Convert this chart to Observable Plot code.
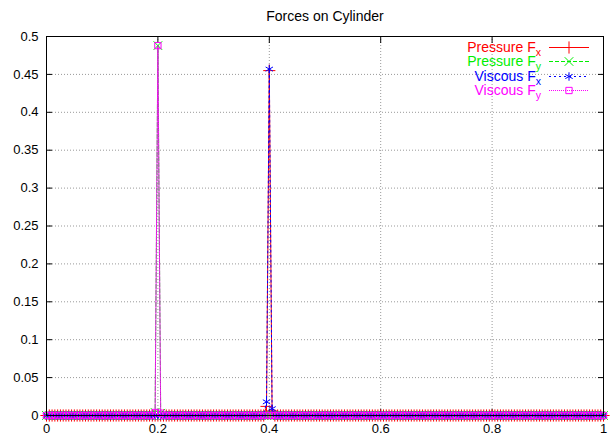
<!DOCTYPE html>
<html><head><meta charset="utf-8">
<script src="https://cdn.jsdelivr.net/npm/d3@7"></script>
<script src="https://cdn.jsdelivr.net/npm/@observablehq/plot@0.6"></script>
<style>
body{margin:0;background:#fff;}
#wrap{position:relative;width:613px;height:440px;font-family:"Liberation Sans",Arial,sans-serif;}
#wrap svg{display:block;}
#legend{position:absolute;left:0;top:0;pointer-events:none;}
</style></head><body><div id="wrap"></div>
<script>
// sample positions (x): 201 samples, spacing
const xValues = [
  0.000,0.005,0.010,0.015,0.020,0.025,0.030,0.035,0.040,0.045,0.050,0.055,0.060,0.065,0.070,0.075,0.080,0.085,0.090,0.095,
  0.100,0.105,0.110,0.115,0.120,0.125,0.130,0.135,0.140,0.145,0.150,0.155,0.160,0.165,0.170,0.175,0.180,0.185,0.190,0.195,
  0.200,0.205,0.210,0.215,0.220,0.225,0.230,0.235,0.240,0.245,0.250,0.255,0.260,0.265,0.270,0.275,0.280,0.285,0.290,0.295,
  0.300,0.305,0.310,0.315,0.320,0.325,0.330,0.335,0.340,0.345,0.350,0.355,0.360,0.365,0.370,0.375,0.380,0.385,0.390,0.395,
  0.400,0.405,0.410,0.415,0.420,0.425,0.430,0.435,0.440,0.445,0.450,0.455,0.460,0.465,0.470,0.475,0.480,0.485,0.490,0.495,
  0.500,0.505,0.510,0.515,0.520,0.525,0.530,0.535,0.540,0.545,0.550,0.555,0.560,0.565,0.570,0.575,0.580,0.585,0.590,0.595,
  0.600,0.605,0.610,0.615,0.620,0.625,0.630,0.635,0.640,0.645,0.650,0.655,0.660,0.665,0.670,0.675,0.680,0.685,0.690,0.695,
  0.700,0.705,0.710,0.715,0.720,0.725,0.730,0.735,0.740,0.745,0.750,0.755,0.760,0.765,0.770,0.775,0.780,0.785,0.790,0.795,
  0.800,0.805,0.810,0.815,0.820,0.825,0.830,0.835,0.840,0.845,0.850,0.855,0.860,0.865,0.870,0.875,0.880,0.885,0.890,0.895,
  0.900,0.905,0.910,0.915,0.920,0.925,0.930,0.935,0.940,0.945,0.950,0.955,0.960,0.965,0.970,0.975,0.980,0.985,0.990,0.995,
  1.000
];
// each row = 20 samples (0.1 in x)
const pressureFx = [
  0,0,0,0,0,0,0,0,0,0,0,0,0,0,0,0,0,0,0,0,
  0,0,0,0,0,0,0,0,0,0,0,0,0,0,0,0,0,0,0,0,
  0,0,0,0,0,0,0,0,0,0,0,0,0,0,0,0,0,0,0,0,
  0,0,0,0,0,0,0,0,0,0,0,0,0,0,0,0,0,0,0,0.012,
  0.455,0.006,0,0,0,0,0,0,0,0,0,0,0,0,0,0,0,0,0,0,
  0,0,0,0,0,0,0,0,0,0,0,0,0,0,0,0,0,0,0,0,
  0,0,0,0,0,0,0,0,0,0,0,0,0,0,0,0,0,0,0,0,
  0,0,0,0,0,0,0,0,0,0,0,0,0,0,0,0,0,0,0,0,
  0,0,0,0,0,0,0,0,0,0,0,0,0,0,0,0,0,0,0,0,
  0,0,0,0,0,0,0,0,0,0,0,0,0,0,0,0,0,0,0,0,
  0
];
const pressureFy = [
  0,0,0,0,0,0,0,0,0,0,0,0,0,0,0,0,0,0,0,0,
  0,0,0,0,0,0,0,0,0,0,0,0,0,0,0,0,0,0,0,0.004,
  0.488,0.003,0,0,0,0,0,0,0,0,0,0,0,0,0,0,0,0,0,0,
  0,0,0,0,0,0,0,0,0,0,0,0,0,0,0,0,0,0,0,0,
  0,0,0,0,0,0,0,0,0,0,0,0,0,0,0,0,0,0,0,0,
  0,0,0,0,0,0,0,0,0,0,0,0,0,0,0,0,0,0,0,0,
  0,0,0,0,0,0,0,0,0,0,0,0,0,0,0,0,0,0,0,0,
  0,0,0,0,0,0,0,0,0,0,0,0,0,0,0,0,0,0,0,0,
  0,0,0,0,0,0,0,0,0,0,0,0,0,0,0,0,0,0,0,0,
  0,0,0,0,0,0,0,0,0,0,0,0,0,0,0,0,0,0,0,0,
  0
];
const viscousFx = [
  0,0,0,0,0,0,0,0,0,0,0,0,0,0,0,0,0,0,0,0,
  0,0,0,0,0,0,0,0,0,0,0,0,0,0,0,0,0,0,0,0,
  0,0,0,0,0,0,0,0,0,0,0,0,0,0,0,0,0,0,0,0,
  0,0,0,0,0,0,0,0,0,0,0,0,0,0,0,0,0,0,0,0.018,
  0.457,0.009,0,0,0,0,0,0,0,0,0,0,0,0,0,0,0,0,0,0,
  0,0,0,0,0,0,0,0,0,0,0,0,0,0,0,0,0,0,0,0,
  0,0,0,0,0,0,0,0,0,0,0,0,0,0,0,0,0,0,0,0,
  0,0,0,0,0,0,0,0,0,0,0,0,0,0,0,0,0,0,0,0,
  0,0,0,0,0,0,0,0,0,0,0,0,0,0,0,0,0,0,0,0,
  0,0,0,0,0,0,0,0,0,0,0,0,0,0,0,0,0,0,0,0,
  0
];
const viscousFy = [
  0,0,0,0,0,0,0,0,0,0,0,0,0,0,0,0,0,0,0,0,
  0,0,0,0,0,0,0,0,0,0,0,0,0,0,0,0,0,0,0,0.004,
  0.488,0.003,0,0,0,0,0,0,0,0,0,0,0,0,0,0,0,0,0,0,
  0,0,0,0,0,0,0,0,0,0,0,0,0,0,0,0,0,0,0,0,
  0,0,0,0,0,0,0,0,0,0,0,0,0,0,0,0,0,0,0,0,
  0,0,0,0,0,0,0,0,0,0,0,0,0,0,0,0,0,0,0,0,
  0,0,0,0,0,0,0,0,0,0,0,0,0,0,0,0,0,0,0,0,
  0,0,0,0,0,0,0,0,0,0,0,0,0,0,0,0,0,0,0,0,
  0,0,0,0,0,0,0,0,0,0,0,0,0,0,0,0,0,0,0,0,
  0,0,0,0,0,0,0,0,0,0,0,0,0,0,0,0,0,0,0,0,
  0
];
const seriesNames = ["Pressure F", "Pressure F", "Viscous F", "Viscous F"];
const seriesSubs = ["x", "y", "x", "y"];
const seriesColors = ["#ff0000", "#00ee00", "#0000ff", "#ff00ff"];
const seriesDash = [null, "4,2", "2,3", "1,1"];
const seriesSymbols = ["plus", "times", "asterisk", "square2"];
const seriesValues = [pressureFx, pressureFy, viscousFx, viscousFy];
const xTicks = [0, 0.2, 0.4, 0.6, 0.8, 1];
const yTicks = [0, 0.05, 0.1, 0.15, 0.2, 0.25, 0.3, 0.35, 0.4, 0.45, 0.5];
const titleText = "Forces on Cylinder";

const fmt = d => String(+d.toFixed(2));
const seriesMarks = [];
seriesValues.forEach((vals, k) => {
  const rows = vals.map((v, i) => ({x: xValues[i], y: v}));
  seriesMarks.push(Plot.line(rows, {x: "x", y: "y", stroke: seriesColors[k], strokeWidth: 1, strokeDasharray: seriesDash[k]}));
  seriesMarks.push(Plot.dot(rows, {x: "x", y: "y", symbol: seriesSymbols[k], stroke: seriesColors[k], r: 4, strokeWidth: 1}));
});

const chart = Plot.plot({
  width: 613, height: 440,
  marginLeft: 46, marginRight: 10, marginTop: 36, marginBottom: 25,
  style: {fontFamily: "'Liberation Sans', Arial, sans-serif", fontSize: "13px", background: "#fff", color: "#000", overflow: "visible"},
  x: {domain: [0, 1]},
  y: {domain: [0, 0.5]},
  marks: [
    Plot.gridX(xTicks, {stroke: "#999", strokeOpacity: 1, strokeDasharray: "1,2"}),
    Plot.gridY(yTicks, {stroke: "#999", strokeOpacity: 1, strokeDasharray: "1,2"}),
    Plot.axisX(xTicks, {anchor: "bottom", tickSize: -6, tickPadding: 14, tickFormat: fmt, label: null}),
    Plot.axisX(xTicks, {anchor: "top", tickSize: -6, tickFormat: () => "", label: null}),
    Plot.axisY(yTicks, {anchor: "left", tickSize: -6, tickPadding: 14, tickFormat: fmt, label: null}),
    Plot.axisY(yTicks, {anchor: "right", tickSize: -6, tickFormat: () => "", label: null}),
    ...seriesMarks,
    Plot.frame({stroke: "#000"}),
    Plot.text([titleText], {frameAnchor: "top", dy: -20, fontSize: 14, lineAnchor: "middle"})
  ]
});
const wrap = document.getElementById("wrap");
wrap.appendChild(chart);

// legend (key), gnuplot style, inside top-right of the plot
const lg = d3.select(wrap).append("svg").attr("id", "legend").attr("width", 613).attr("height", 440);
seriesNames.forEach((name, i) => {
  const cy = 47.5 + 14 * i + (i >= 2 ? 1 : 0);
  const t = lg.append("text").attr("x", 541).attr("y", cy + 4.5).attr("text-anchor", "end")
    .attr("fill", seriesColors[i]).attr("font-size", 14).attr("font-family", "'Liberation Sans', Arial, sans-serif");
  t.append("tspan").text(name);
  t.append("tspan").attr("dy", 3.5).attr("font-size", 10.5).text(seriesSubs[i]);
  lg.append("line").attr("x1", 549).attr("x2", 589).attr("y1", cy).attr("y2", cy)
    .attr("stroke", seriesColors[i]).attr("stroke-dasharray", seriesDash[i]);
  const sym = {plus: d3.symbolPlus, times: d3.symbolTimes, asterisk: d3.symbolAsterisk, square2: d3.symbolSquare2}[seriesSymbols[i]];
  lg.append("path").attr("transform", `translate(569,${cy})`).attr("d", d3.symbol(sym, 4 * 4 * Math.PI)())
    .attr("fill", "none").attr("stroke", seriesColors[i]);
});
</script>
</body></html>
